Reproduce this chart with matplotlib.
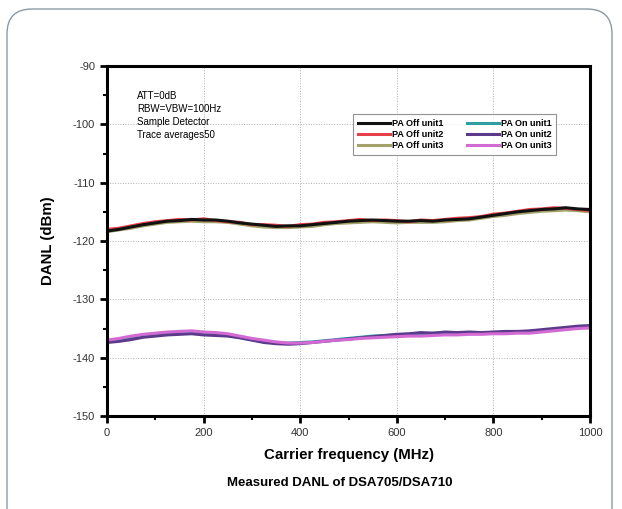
import matplotlib
matplotlib.use("Agg")
import matplotlib.pyplot as plt
from matplotlib.patches import FancyBboxPatch
from matplotlib.ticker import MultipleLocator

plt.rcParams['font.family'] = ['Liberation Sans', 'DejaVu Sans']
plt.rcParams['axes.unicode_minus'] = False

# frequency axis (MHz), one point every 25 MHz
freq = [i * 25 for i in range(41)]

off_unit1 = [-118.3, -118.0, -117.6, -117.2, -116.9, -116.6, -116.5, -116.3, -116.4, -116.4,
             -116.6, -116.9, -117.1, -117.3, -117.5, -117.4, -117.4, -117.2, -117.0, -116.8,
             -116.6, -116.5, -116.4, -116.5, -116.6, -116.6, -116.5, -116.6, -116.4, -116.3,
             -116.2, -115.9, -115.6, -115.3, -115.0, -114.8, -114.6, -114.5, -114.3, -114.5, -114.6]
off_unit2 = [-118.0, -117.8, -117.4, -117.0, -116.7, -116.5, -116.3, -116.4, -116.2, -116.5,
             -116.7, -116.8, -117.2, -117.2, -117.3, -117.5, -117.2, -117.1, -116.8, -116.7,
             -116.5, -116.3, -116.5, -116.4, -116.5, -116.7, -116.4, -116.5, -116.3, -116.1,
             -116.0, -115.8, -115.4, -115.2, -114.9, -114.6, -114.5, -114.3, -114.4, -114.6, -114.8]
off_unit3 = [-118.4, -118.1, -117.8, -117.4, -117.1, -116.8, -116.7, -116.6, -116.7, -116.7,
             -116.8, -117.1, -117.4, -117.6, -117.7, -117.7, -117.6, -117.5, -117.2, -117.0,
             -116.9, -116.8, -116.7, -116.8, -116.9, -116.8, -116.8, -116.8, -116.7, -116.5,
             -116.4, -116.1, -115.8, -115.6, -115.3, -115.1, -114.9, -114.8, -114.7, -114.8, -115.0]
on_unit1 = [-137.2, -137.0, -136.6, -136.3, -136.1, -135.9, -135.8, -135.8, -135.9, -136.0,
            -136.2, -136.5, -136.9, -137.2, -137.4, -137.5, -137.4, -137.3, -137.1, -136.9,
            -136.7, -136.5, -136.3, -136.2, -136.1, -136.0, -135.9, -135.8, -135.8, -135.9,
            -135.8, -135.8, -135.7, -135.7, -135.6, -135.6, -135.4, -135.2, -135.0, -134.8, -134.8]
on_unit2 = [-137.4, -137.2, -136.9, -136.5, -136.3, -136.1, -136.0, -135.9, -136.1, -136.2,
            -136.3, -136.6, -137.0, -137.4, -137.6, -137.7, -137.6, -137.4, -137.2, -137.0,
            -136.8, -136.6, -136.4, -136.2, -136.0, -135.9, -135.7, -135.8, -135.6, -135.7,
            -135.6, -135.7, -135.6, -135.5, -135.5, -135.4, -135.2, -135.0, -134.8, -134.6, -134.5]
on_unit3 = [-137.0, -136.7, -136.3, -136.0, -135.8, -135.6, -135.5, -135.4, -135.6, -135.7,
            -135.9, -136.3, -136.7, -137.0, -137.3, -137.5, -137.5, -137.4, -137.2, -137.0,
            -136.9, -136.7, -136.6, -136.5, -136.4, -136.3, -136.3, -136.2, -136.1, -136.1,
            -136.0, -136.0, -135.9, -135.9, -135.8, -135.8, -135.6, -135.4, -135.2, -135.0, -134.9]

off_series = [
    ("PA Off unit1", off_unit1, "#111111"),
    ("PA Off unit2", off_unit2, "#e8404a"),
    ("PA Off unit3", off_unit3, "#a3a26a"),
]
on_series = [
    ("PA On unit1", on_unit1, "#2f9ea0"),
    ("PA On unit2", on_unit2, "#5b3a8c"),
    ("PA On unit3", on_unit3, "#d36ad3"),
]
notes = ["ATT=0dB", "RBW=VBW=100Hz", "Sample Detector", "Trace averages50"]

fig = plt.figure(figsize=(6.22, 5.09), dpi=100)

# rounded frame around the whole figure
frame = FancyBboxPatch((7 / 622, -0.1), 605 / 622, 1.1 - 9 / 509,
                       boxstyle="round,pad=0,rounding_size=0.04",
                       transform=fig.transFigure, fill=False,
                       edgecolor="#8a9aa6", linewidth=1.0, mutation_aspect=622 / 509)
fig.patches.append(frame)

ax = fig.add_axes([107 / 622, 1 - 416 / 509, 483 / 622, 350 / 509])

# off traces: unit1 on top; on traces: unit3 on top (as in the picture)
lines = {}
for label, vals, color in list(reversed(off_series)) + on_series:
    lines[label], = ax.plot(freq, vals, color=color, linewidth=2.2, label=label)

ax.set_xlim(0, 1000)
ax.set_ylim(-150, -90)
ax.xaxis.set_major_locator(MultipleLocator(200))
ax.xaxis.set_minor_locator(MultipleLocator(100))
ax.yaxis.set_major_locator(MultipleLocator(10))
ax.yaxis.set_minor_locator(MultipleLocator(5))
ax.grid(True, which="major", linestyle=":", color="#b0b0b0", linewidth=0.7)

for s in ax.spines.values():
    s.set_linewidth(2.2)
ax.tick_params(which="major", direction="out", length=5, width=2, labelsize=8, colors="black")
ax.tick_params(which="minor", direction="out", length=3, width=1.5)
ax.tick_params(axis="x", pad=4)
ax.tick_params(top=False, right=False)
for t in ax.get_xticklabels() + ax.get_yticklabels():
    t.set_color("#333333")

ax.set_xlabel("Carrier frequency (MHz)", fontsize=10.8, fontweight="bold", labelpad=7)
ax.set_ylabel("DANL (dBm)", fontsize=10.8, fontweight="bold", labelpad=13)

for i, line in enumerate(notes):
    ax.text(0.062, 0.928 - i * 0.037, line, transform=ax.transAxes, fontsize=7, va="top")

# legend: off units in first column, on units in second
handles = [lines[label] for label, _, _ in off_series + on_series]
leg = ax.legend(handles=handles, ncol=2, loc="upper left", bbox_to_anchor=(0.5, 0.875),
                prop={"weight": "bold", "size": 6.5}, frameon=True, fancybox=False,
                handlelength=3.6, handletextpad=0.2, columnspacing=2.6, labelspacing=0.25,
                borderpad=0.5)
leg.get_frame().set_edgecolor("#777777")
leg.get_frame().set_linewidth(0.8)

fig.text(340 / 622, 1 - 483 / 509, "Measured DANL of DSA705/DSA710", ha="center", va="center",
         fontsize=9.5, fontweight="bold")

fig.savefig("out.png", dpi=100)
